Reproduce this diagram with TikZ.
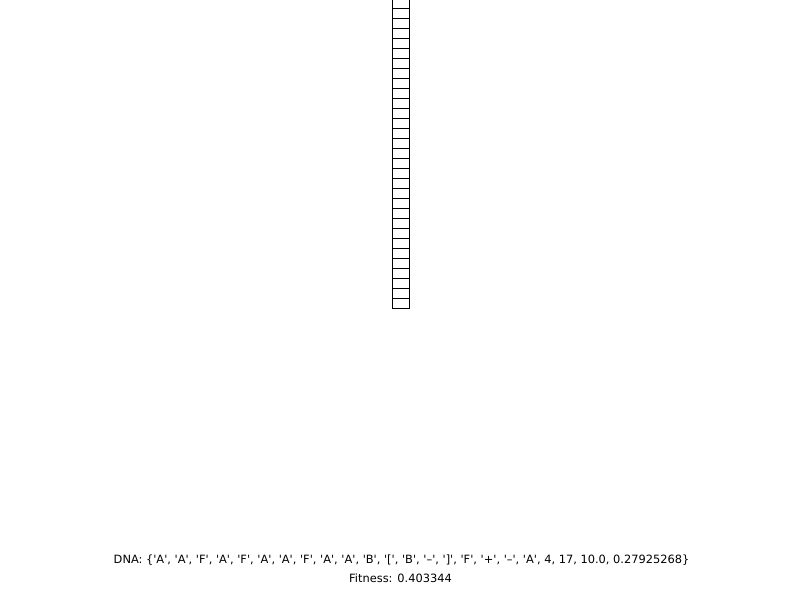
\documentclass[tikz,border=0pt]{standalone}
\usepackage{fontspec}
\setmainfont{DejaVu Sans}
\newcommand{\myq}[1]{\textquotesingle#1\textquotesingle}
\tikzset{
  cell/.style={draw=black, line width=1pt},
  caption/.style={anchor=base, inner sep=0pt, font=\fontsize{11.4}{13}\selectfont}
}
\begin{document}
\begin{tikzpicture}[x=1pt,y=-1pt]
\useasboundingbox (0,0) rectangle (800,600);
% column of cells
\foreach \k in {0,...,30} {
  \draw[cell] (392.5,{\k*10-1.5}) rectangle (409.5,{\k*10+8.5});
}
\node[caption] (dna) at (401.5,563) {DNA: \{\myq{A}, \myq{A}, \myq{F}, \myq{A}, \myq{F}, \myq{A}, \myq{A}, \myq{F}, \myq{A}, \myq{A}, \myq{B}, \myq{[}, \myq{B}, \myq{–}, \myq{]}, \myq{F}, \myq{+}, \myq{–}, \myq{A}, 4, 17, 10.0, 0.27925268\}};
\node[caption] (fit) at (400.5,582) {Fitness: 0.403344};
\end{tikzpicture}
\end{document}
